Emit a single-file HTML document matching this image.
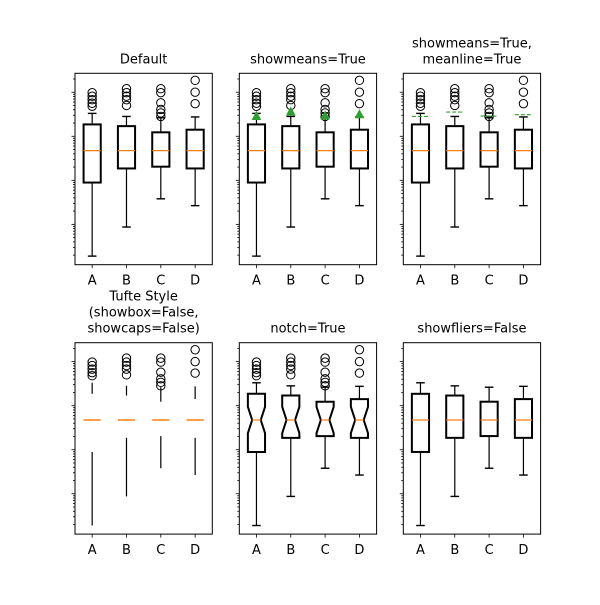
<!DOCTYPE html>
<html><head><meta charset="utf-8"><style>
html,body{margin:0;padding:0;background:#fff;}
svg text{font-family:"DejaVu Sans","Liberation Sans",sans-serif;}
</style></head><body>
<svg id="fig" width="600" height="600" xmlns="http://www.w3.org/2000/svg"></svg>
<script>
const categories = ["A","B","C","D"];
const whiskerLo = [0.19, 0.87, 3.8, 2.66];
const q1Values = [8.9, 18.6, 20.4, 18.6];
const medians = [47.3, 47.3, 47.3, 47.3];
const q3Values = [186, 170, 123, 141];
const whiskerHi = [331, 282, 263, 275];
const means = [282, 355, 288, 309];
const fliers = [
  [977, 813, 676, 562, 479],
  [1202, 977, 813, 676, 501],
  [1202, 977, 575, 407, 339, 282],
  [1862, 1000, 550]
];
const notchHalfDecades = 0.3;

const NS = "http://www.w3.org/2000/svg";
const svg = document.getElementById("fig");
function mk(tag, attrs, parent){
  const e = document.createElementNS(NS, tag);
  for (const k in attrs) e.setAttribute(k, attrs[k]);
  (parent||svg).appendChild(e);
  return e;
}
const cols = [75, 239.3, 403.3];
const W = 137.3;
const rows = [73.3, 342.7];
const H = 191.4;
const logMin = -0.916, logMax = 3.43;

const panels = [
  {title:["Default"], mode:"default"},
  {title:["showmeans=True"], mode:"means"},
  {title:["showmeans=True,","meanline=True"], mode:"meanline"},
  {title:["Tufte Style","(showbox=False,","showcaps=False)"], mode:"tufte"},
  {title:["notch=True"], mode:"notch"},
  {title:["showfliers=False"], mode:"nofliers"}
];

panels.forEach((p, pi) => {
  const x0 = cols[pi%3], y0 = rows[Math.floor(pi/3)];
  const g = mk("g", {});
  
  
  const xs = v => x0 + (v - 0.5) * W / 4;
  const ys = v => y0 + H - (Math.log10(v) - logMin) / (logMax - logMin) * H;
  const ysl = l => y0 + H - (l - logMin) / (logMax - logMin) * H;
  const n = p.title.length;
  p.title.forEach((t, i) => {
    const tt = mk("text", {x: x0 + W/2, y: y0 - 10 - (n-1-i)*16, "text-anchor":"middle", "font-size":"13", fill:"#000"}, g);
    tt.textContent = t;
    
    
  });
  for (let d = -1; d <= 3; d++) {
    for (let m = 1; m <= 9; m++) {
      const l = d + Math.log10(m);
      if (l < logMin || l > logMax) continue;
      const y = ysl(l);
      const t = mk("line", {x1:x0, x2:x0-(m===1?3.5:2), y1:y, y2:y, stroke:"#000", "stroke-width":"0.8"}, g);
      
      
    }
  }
  categories.forEach((c, i) => {
    const x = xs(i+1);
    const t = mk("line", {x1:x, x2:x, y1:y0+H, y2:y0+H+3.5, stroke:"#000", "stroke-width":"0.8"}, g);
    
    
    const lb = mk("text", {x:x, y:y0+H+20, "text-anchor":"middle", "font-size":"13", fill:"#000"}, g);
    lb.textContent = c;
    
    
  });
  categories.forEach((c, i) => {
    const x = xs(i+1), hw = W/4*0.25, cw = hw/2;
    const bg = mk("g", {}, g);
    
    
    const yq1 = ys(q1Values[i]), yq3 = ys(q3Values[i]), ymed = ys(medians[i]);
    const ylo = ys(whiskerLo[i]), yhi = ys(whiskerHi[i]);
    mk("line", {x1:x, x2:x, y1:yq3, y2:yhi, stroke:"#000", "stroke-width":"1.2"}, bg);
    mk("line", {x1:x, x2:x, y1:yq1, y2:ylo, stroke:"#000", "stroke-width":"1.2"}, bg);
    if (p.mode !== "tufte") {
      mk("line", {x1:x-cw, x2:x+cw, y1:yhi, y2:yhi, stroke:"#000", "stroke-width":"1.4"}, bg);
      mk("line", {x1:x-cw, x2:x+cw, y1:ylo, y2:ylo, stroke:"#000", "stroke-width":"1.4"}, bg);
      if (p.mode === "notch") {
        const lm = Math.log10(medians[i]);
        const yn1 = ysl(lm + notchHalfDecades), yn2 = ysl(lm - notchHalfDecades);
        const pts = [[x-hw,yq1],[x+hw,yq1],[x+hw,yn2],[x+cw,ymed],[x+hw,yn1],[x+hw,yq3],
                     [x-hw,yq3],[x-hw,yn1],[x-cw,ymed],[x-hw,yn2]];
        mk("polygon", {points: pts.map(q=>q.join(",")).join(" "), fill:"none", stroke:"#000", "stroke-width":"2"}, bg);
        mk("line", {x1:x-cw, x2:x+cw, y1:ymed, y2:ymed, stroke:"#ff7f0e", "stroke-width":"1.2"}, bg);
      } else {
        mk("rect", {x:x-hw, y:yq3, width:2*hw, height:yq1-yq3, fill:"none", stroke:"#000", "stroke-width":"2"}, bg);
        mk("line", {x1:x-hw, x2:x+hw, y1:ymed, y2:ymed, stroke:"#ff7f0e", "stroke-width":"1.2"}, bg);
      }
    } else {
      mk("line", {x1:x-hw, x2:x+hw, y1:ymed, y2:ymed, stroke:"#ff7f0e", "stroke-width":"1.6"}, bg);
    }
    if (p.mode !== "nofliers") {
      fliers[i].forEach(f => {
        const cc = mk("circle", {cx:x, cy:ys(f), r:4.2, fill:"none", stroke:"#000", "stroke-width":"1"}, bg);
        
        
      });
    }
    if (p.mode === "means") {
      const ym = ys(means[i]);
      const tr = mk("polygon", {points:`${x},${ym-4.5} ${x-4},${ym+3} ${x+4},${ym+3}`, fill:"#2ca02c", stroke:"#2ca02c"}, bg);
      
      
    }
    if (p.mode === "meanline") {
      const ym = ys(means[i]);
      const ml = mk("line", {x1:x-hw, x2:x+hw, y1:ym, y2:ym, stroke:"#2ca02c", "stroke-width":"1.2", "stroke-dasharray":"4 2"}, bg);
      
      
    }
  });
  const fr = mk("rect", {x:x0, y:y0, width:W, height:H, fill:"none", stroke:"#000", "stroke-width":"1"}, g);
  
  
});
</script>
</body></html>
